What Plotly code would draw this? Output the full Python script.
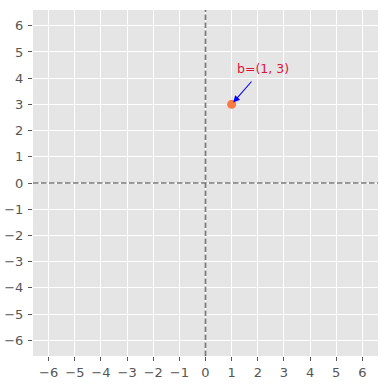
import plotly.graph_objects as go

# data
point_x = [1]
point_y = [3]
label = "b=(1, 3)"
text_pos = (2.19, 4.35)
arrow_start = (1.81, 3.93)
ticks = list(range(-6, 7))
axis_range = [-6.6, 6.6]

fig = go.Figure()

# dashed axes through origin
fig.add_shape(type="line", x0=0, x1=0, y0=0, y1=1, xref="x", yref="paper",
              line=dict(color="#7A7A7A", width=1.7, dash="5.5px,2.5px"))
fig.add_shape(type="line", x0=0, x1=1, y0=0, y1=0, xref="paper", yref="y",
              line=dict(color="#7A7A7A", width=1.7, dash="5.5px,2.5px"))

fig.add_trace(go.Scatter(x=point_x, y=point_y, mode="markers",
                         marker=dict(color="#FB7A42", size=9, line=dict(width=0)),
                         showlegend=False, hoverinfo="skip"))

# arrow
fig.add_annotation(x=point_x[0], y=point_y[0], ax=arrow_start[0], ay=arrow_start[1],
                   xref="x", yref="y", axref="x", ayref="y", text="",
                   showarrow=True, arrowhead=2, arrowsize=1.2, arrowwidth=1.1,
                   arrowcolor="#0000FF", standoff=2.5)
# label
fig.add_annotation(x=text_pos[0], y=text_pos[1], xref="x", yref="y", text=label,
                   showarrow=False, font=dict(color="#DC143C", size=12.5,
                                              family="DejaVu Sans"))

axis_common = dict(range=axis_range, tickmode="array", tickvals=ticks,
                   showgrid=True, gridcolor="white", gridwidth=1.1,
                   zeroline=False, showline=False, ticks="outside",
                   ticklen=4, tickwidth=1, tickcolor="#555555",
                   tickfont=dict(color="#555555", size=13, family="DejaVu Sans"),
                   automargin=False)

fig.update_xaxes(**axis_common, ticklabelstandoff=0)
fig.update_yaxes(**axis_common, ticklabelstandoff=2)

fig.update_layout(width=388, height=386,
                  margin=dict(l=33, r=10, t=10, b=30),
                  plot_bgcolor="#E5E5E5", paper_bgcolor="white",
                  font=dict(family="DejaVu Sans"))

fig.write_html("out.html")
